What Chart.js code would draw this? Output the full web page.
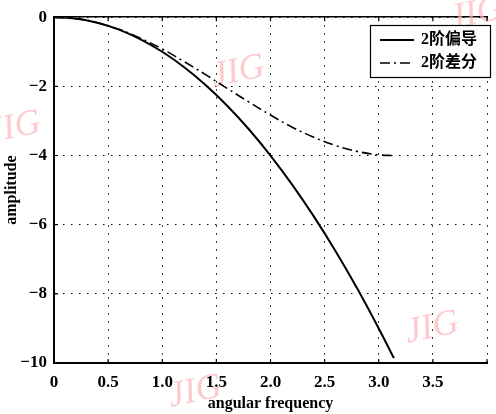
<!DOCTYPE html>
<html lang="zh">
<head>
    <meta charset="UTF-8">
    <title>2阶偏导 / 2阶差分</title>
    <script src="https://cdn.jsdelivr.net/npm/chart.js"></script>
    <style>
        body {
            margin: 0;
            padding: 0;
            background: #fff;
        }
        canvas {
            display: block;
        }
    </style>
</head>
<body>

    <canvas id="myChart" width="496" height="414"></canvas>

    <script>
        // values
        var seriesNames = ['2阶偏导', '2阶差分'];

        var derivX = [0, 0.2, 0.4, 0.6, 0.8, 1.0, 1.2, 1.4, 1.6, 1.8, 2.0, 2.2, 2.4, 2.6, 2.8, 3.0, 3.14];
        var derivY = [0, -0.04, -0.16, -0.36, -0.64, -1.0, -1.44, -1.96, -2.56, -3.24, -4.0, -4.84, -5.76, -6.76, -7.84, -9.0, -9.86];

        var diffX = [0, 0.2, 0.4, 0.6, 0.8, 1.0, 1.2, 1.4, 1.6, 1.8, 2.0, 2.2, 2.4, 2.6, 2.8, 3.0, 3.14];
        var diffY = [0, -0.04, -0.16, -0.35, -0.61, -0.92, -1.28, -1.66, -2.06, -2.45, -2.83, -3.18, -3.47, -3.71, -3.88, -3.98, -4.0];

        var xTickLabels = ['0', '0.5', '1.0', '1.5', '2.0', '2.5', '3.0', '3.5', ''];
        var yTickLabels = ['\u221210', '\u22128', '\u22126', '\u22124', '\u22122', '0'];

        var watermarks = [
            { x: 238, y: 72 },
            { x: 14, y: 128 },
            { x: 476, y: 14 },
            { x: 195, y: 392 },
            { x: 432, y: 328 }
        ];

        function toPoints(xs, ys) {
            return xs.map(function (x, i) { return { x: x, y: ys[i] }; });
        }

        var serif = "'Liberation Serif', 'Times New Roman', serif";

        // pink "JIG" stamps behind the curves
        var watermarkPlugin = {
            id: 'watermark',
            beforeDatasetsDraw: function (chart) {
                var ctx = chart.ctx;
                ctx.save();
                ctx.fillStyle = 'rgba(252, 180, 185, 0.7)';
                ctx.font = 'italic 36px ' + serif;
                ctx.textAlign = 'center';
                ctx.textBaseline = 'middle';
                watermarks.forEach(function (w) {
                    ctx.save();
                    ctx.translate(w.x, w.y);
                    ctx.rotate(-0.2);
                    ctx.fillText('JIG', 0, 0);
                    ctx.restore();
                });
                ctx.restore();
            }
        };

        // short inward tick marks, matlab style
        var innerTicks = {
            id: 'innerTicks',
            afterDatasetsDraw: function (chart) {
                var ctx = chart.ctx;
                var area = chart.chartArea;
                var xs = chart.scales.x, ys = chart.scales.y;
                ctx.save();
                ctx.strokeStyle = '#000';
                ctx.lineWidth = 1.2;
                ctx.beginPath();
                xs.ticks.forEach(function (t) {
                    var px = xs.getPixelForValue(t.value);
                    ctx.moveTo(px, area.bottom);
                    ctx.lineTo(px, area.bottom - 4);
                    ctx.moveTo(px, area.top);
                    ctx.lineTo(px, area.top + 4);
                });
                ys.ticks.forEach(function (t) {
                    var py = ys.getPixelForValue(t.value);
                    ctx.moveTo(area.left, py);
                    ctx.lineTo(area.left + 4, py);
                });
                ctx.stroke();
                ctx.restore();
            }
        };

        // legend box in the top right corner, like the original
        var boxLegend = {
            id: 'boxLegend',
            afterDraw: function (chart) {
                var ctx = chart.ctx;
                var x0 = 370, y0 = 25, w = 120, h = 52;
                ctx.save();
                ctx.fillStyle = '#fff';
                ctx.fillRect(x0, y0, w, h);
                ctx.strokeStyle = '#000';
                ctx.lineWidth = 1.2;
                ctx.strokeRect(x0 + 0.5, y0 + 0.5, w, h);
                chart.data.datasets.forEach(function (ds, i) {
                    var ly = y0 + 15 + i * 23;
                    ctx.beginPath();
                    ctx.setLineDash(ds.borderDash || []);
                    ctx.lineWidth = ds.borderWidth;
                    ctx.strokeStyle = ds.borderColor;
                    ctx.moveTo(x0 + 10, ly);
                    ctx.lineTo(x0 + 44, ly);
                    ctx.stroke();
                    ctx.setLineDash([]);
                    ctx.fillStyle = '#000';
                    ctx.font = "bold 16px 'Liberation Serif', 'Noto Sans CJK SC', serif";
                    ctx.textBaseline = 'middle';
                    ctx.fillText(ds.label, x0 + 51, ly);
                });
                ctx.restore();
            }
        };

        var ctx = document.getElementById('myChart').getContext('2d');

        var myChart = new Chart(ctx, {
            type: 'line',
            data: {
                datasets: [
                    {
                        label: seriesNames[0],
                        data: toPoints(derivX, derivY),
                        borderColor: '#000',
                        borderWidth: 2,
                        pointRadius: 0,
                        tension: 0.4,
                        fill: false
                    },
                    {
                        label: seriesNames[1],
                        data: toPoints(diffX, diffY),
                        borderColor: '#000',
                        borderWidth: 1.6,
                        borderDash: [10, 4, 2, 4],
                        pointRadius: 0,
                        tension: 0.4,
                        fill: false
                    }
                ]
            },
            options: {
                responsive: false,
                animation: false,
                layout: {
                    padding: { top: 15, right: 0, left: 0, bottom: 0 }
                },
                scales: {
                    x: {
                        type: 'linear',
                        min: 0,
                        max: 4,
                        afterFit: function (scale) { scale.height = 51; },
                        ticks: {
                            stepSize: 0.5,
                            padding: 9,
                            color: '#000',
                            font: { family: serif, size: 17, weight: 'bold' },
                            maxRotation: 0,
                            callback: function (v, i) { return xTickLabels[i]; }
                        },
                        grid: {
                            color: '#000',
                            lineWidth: 1,
                            drawTicks: false
                        },
                        border: {
                            display: true,
                            color: '#000',
                            width: 2,
                            dash: [1.5, 6.5]
                        },
                        title: {
                            display: true,
                            text: 'angular frequency',
                            color: '#000',
                            padding: { top: 0, bottom: 1 },
                            font: { family: serif, size: 16, weight: 'bold' }
                        }
                    },
                    xTop: {
                        type: 'linear',
                        position: 'top',
                        min: 0,
                        max: 4,
                        ticks: { display: false },
                        grid: { display: false, drawTicks: false },
                        border: { display: true, color: '#000', width: 1.5 }
                    },
                    y: {
                        min: -10,
                        max: 0,
                        afterFit: function (scale) { scale.width = 54; },
                        ticks: {
                            stepSize: 2,
                            padding: 7,
                            color: '#000',
                            font: { family: serif, size: 17, weight: 'bold' },
                            callback: function (v, i) { return yTickLabels[i]; }
                        },
                        grid: {
                            color: '#000',
                            lineWidth: 1,
                            drawTicks: false
                        },
                        border: {
                            display: true,
                            color: '#000',
                            width: 2,
                            dash: [1.5, 6.5]
                        },
                        title: {
                            display: true,
                            text: 'amplitude',
                            color: '#000',
                            padding: { top: 2, bottom: 0 },
                            font: { family: serif, size: 16, weight: 'bold' }
                        }
                    }
                },
                plugins: {
                    legend: { display: false },
                    tooltip: { enabled: false }
                }
            },
            plugins: [watermarkPlugin, innerTicks, boxLegend]
        });
    </script>
</body>
</html>
